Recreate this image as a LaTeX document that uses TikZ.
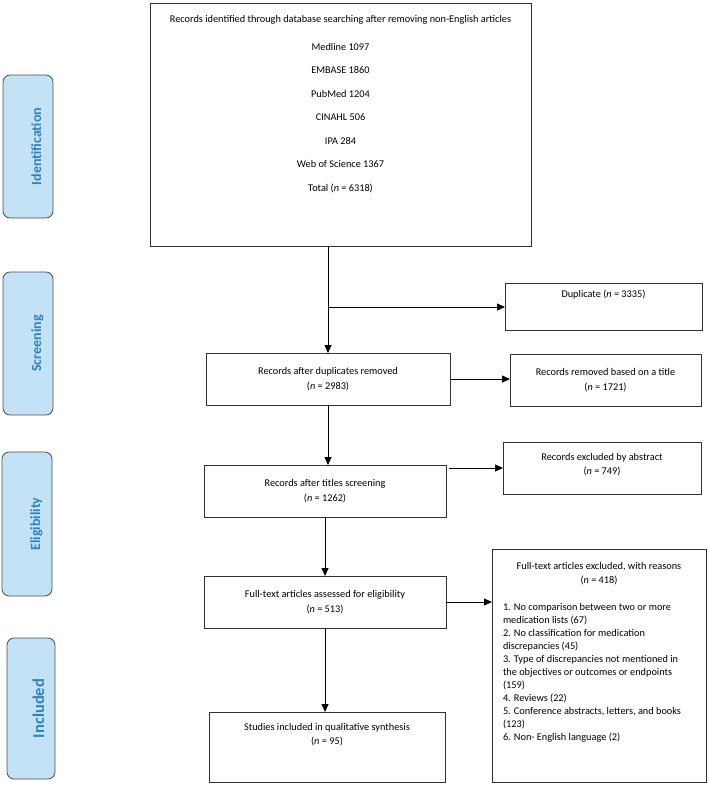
\documentclass[tikz,border=0pt]{standalone}
\usepackage{fontspec}
\setmainfont{Carlito}
\usetikzlibrary{arrows.meta,positioning}
\definecolor{phaseFill}{HTML}{C4E2F6}
\definecolor{phaseText}{HTML}{2B83C3}
\definecolor{boxLine}{HTML}{333333}
\newcommand{\flowfont}{\fontsize{10.3}{14.5}\selectfont}
\newcommand{\nn}{\textit{n}}
% box text that starts at the top: width, height, top gap, text
\newcommand{\toptext}[4]{\parbox[c][#2][t]{#1}{\centering\vspace*{#3}#4}}
\tikzset{
	flowbox/.style={draw=boxLine, line width=0.9pt, inner sep=0pt, outer sep=0pt, align=center, font=\flowfont},
	phase/.style={draw=black!70, fill=phaseFill, line width=0.8pt, rounded corners=2.5mm, rotate=90,
		text=phaseText, font=\bfseries\fontsize{14}{16}\selectfont, text height=26pt, text depth=0pt, inner sep=0pt},
	arr/.style={-{Triangle[length=8pt,width=7pt]}, line width=0.8pt}
}

\begin{document}
\begin{tikzpicture}[x=1pt, y=-1pt]
\useasboundingbox (0,0) rectangle (709,785);

% phases
\node[phase, minimum width=143pt, minimum height=50pt] (pId) at (28,146.5) {Identification};
\node[phase, minimum width=143pt, minimum height=50pt] (pScr) at (28,343.5) {Screening};
\node[phase, minimum width=144pt, minimum height=50pt] (pElig) at (27,524) {Eligibility};
\node[phase, minimum width=141pt, minimum height=48pt, font=\bfseries\fontsize{16.5}{18}\selectfont] (pIncl) at (31,708.5) {Included};

% boxes
\node[flowbox] (records) at (340.5,124.5) {\toptext{381pt}{243pt}{12pt}{Records identified through database searching after removing non-English articles\\[13.5pt]
 Medline 1097\\[9pt] EMBASE 1860\\[9pt] PubMed 1204\\[9pt] CINAHL 506\\[9pt] IPA 284\\[9pt]
 Web of Science 1367\\[9pt] Total (\nn{} = 6318)}};
\node[flowbox] (dup) at (603.5,306.5) {\toptext{197pt}{47pt}{7pt}{Duplicate (\nn{} = 3335)}};
\node[flowbox, minimum width=244pt, minimum height=52pt] (afterdup) at (328,379) {Records after duplicates removed\\(\nn{} = 2983)};
\node[flowbox, minimum width=191pt, minimum height=52pt] (title) at (605.5,380) {Records removed based on a title\\(\nn{} = 1721)};
\node[flowbox] (abstract) at (602,468) {\toptext{198pt}{52pt}{11pt}{Records excluded by abstract\\(\nn{} = 749)}};
\node[flowbox, minimum width=242pt, minimum height=52pt] (screen) at (325,491) {Records after titles screening\\(\nn{} = 1262)};
\node[flowbox, minimum width=242pt, minimum height=52pt] (fulltext) at (325,602) {Full-text articles assessed for eligibility\\(\nn{} = 513)};
\node[flowbox] (studies) at (327,747) {\toptext{236pt}{70pt}{11pt}{Studies included in qualitative synthesis\\(\nn{} = 95)}};
\node[flowbox, inner xsep=11pt] (reasons) at (599,665.5) {\parbox[c][233pt][t]{192pt}{\vspace*{13pt}%
 {\centering Full-text articles excluded, with reasons\\(\nn{} = 418)\par}\vspace{14pt}%
 {\fontsize{10.3}{13}\selectfont\raggedright
 1. No comparison between two or more\\ medication lists (67)\\
 2. No classification for medication\\ discrepancies (45)\\
 3. Type of discrepancies not mentioned in\\ the objectives or outcomes or endpoints\\ (159)\\
 4. Reviews (22)\\
 5. Conference abstracts, letters, and books\\ (123)\\
 6. Non- English language (2)\par}}};

% connectors
\coordinate (split) at (328,307);
\draw[arr] (records.south -| afterdup.north) -- (afterdup.north);
\draw[arr] (split) -- (split -| dup.west);
\draw[arr] (afterdup.east) -- (afterdup.east -| title.west);
\draw[arr] (afterdup.south) -- (afterdup.south |- screen.north);
\draw[arr, shorten <=3pt] (screen.east |- abstract.west) -- (abstract.west);
\draw[arr] (screen.south) -- (screen.south |- fulltext.north);
\draw[arr] (fulltext.east) -- (fulltext.east -| reasons.west);
\draw[arr] (fulltext.south) -- (fulltext.south |- studies.north);
\end{tikzpicture}
\end{document}
